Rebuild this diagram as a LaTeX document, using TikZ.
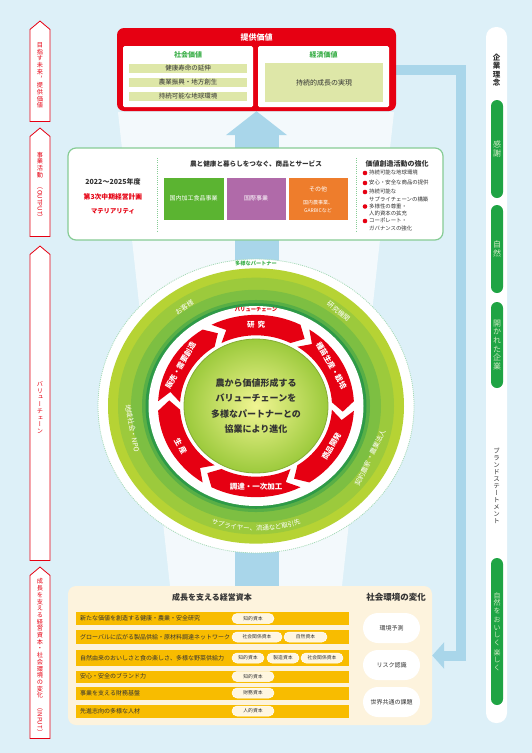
\documentclass[tikz,border=0pt]{standalone}
\usepackage{graphicx}
\usepackage{fontspec}
\setmainfont{Noto Sans CJK JP}
\newfontfamily\tatefont[RawFeature=+vert]{Noto Sans CJK JP}
\usetikzlibrary{arrows.meta,shapes.symbols,decorations.text}

\makeatletter
\newcommand\tatestack[1]{\vbox{\@tfor\tate@ch:=#1\do{\hbox to 1.1em{\hss\tate@ch\hss}}}}
\makeatother

\definecolor{bgblue}{HTML}{DDF0F8}
\definecolor{kred}{HTML}{E60012}
\definecolor{kgreen}{HTML}{1FA444}
\definecolor{pilltxt}{HTML}{CDEBC2}
\definecolor{flowblue}{HTML}{A9D6EA}
\definecolor{olive}{HTML}{DEE7A8}
\definecolor{headgreen}{HTML}{3DB04B}
\definecolor{bizgreen}{HTML}{5BB431}
\definecolor{bizpurple}{HTML}{B06AA9}
\definecolor{bizorange}{HTML}{EE7D2C}
\definecolor{boxline}{HTML}{86CC95}
\definecolor{cream}{HTML}{FDF3DD}
\definecolor{capyellow}{HTML}{F8BC00}
\definecolor{capcream}{HTML}{FFF6E0}
\definecolor{darktxt}{HTML}{333333}
\definecolor{bandA}{HTML}{B6D334}
\definecolor{bandB}{HTML}{9CCA3C}
\definecolor{bandC}{HTML}{7DBF42}
\definecolor{bandD}{HTML}{58AF46}
\definecolor{bandE}{HTML}{2E9A47}
\definecolor{ringedge}{HTML}{A6DAB8}

\pgfdeclarelayer{flow}
\pgfsetlayers{flow,main}

\tikzset{
  tag/.style={signal, signal to=north, signal from=nowhere, signal pointer angle=100,
    draw=kred, fill=white, line width=0.8pt, minimum width=20, inner sep=0pt,
    text=kred, font=\tatefont\fontsize{6.2}{6.7}\selectfont},
  tatetxt/.style={inner sep=0pt, text=darktxt},
  creedpill/.style={rectangle, rounded corners=6, fill=kgreen, minimum width=12,
    inner sep=0pt, text=pilltxt, font=\tatefont\fontsize{8}{8.6}\selectfont},
  valpanel/.style={rectangle, rounded corners=1.5, fill=white, minimum height=61, inner sep=0pt},
  valhead/.style={text=headgreen, font=\bfseries\fontsize{7}{7}\selectfont, inner sep=0pt},
  valbar/.style={rectangle, fill=olive, inner sep=0pt, text=darktxt, font=\fontsize{6.5}{7}\selectfont},
  plantxt/.style={inner sep=0pt, text=darktxt, font=\bfseries\fontsize{7}{7}\selectfont},
  bizhead/.style={inner sep=0pt, text=darktxt, font=\bfseries\fontsize{6.6}{7}\selectfont},
  segbox/.style={rectangle, minimum width=61, minimum height=43, draw=white, line width=0.6pt,
    inner sep=0pt, text=white, font=\fontsize{6}{7}\selectfont},
  actitem/.style={anchor=north west, inner sep=0pt, align=left, text=darktxt,
    font=\fontsize{5.4}{7.4}\selectfont},
  sepline/.style={draw=boxline, line width=1pt, dash pattern=on 1pt off 1.2pt},
  ringlbl/.style={inner sep=0pt, text=white, font=\bfseries\fontsize{7.5}{8}\selectfont},
  partner/.style={inner sep=0pt, text=white, font=\fontsize{6.8}{7}\selectfont},
  caprow/.style={rectangle, fill=capyellow, minimum width=273, inner sep=0pt},
  rowtxt/.style={anchor=west, inner sep=0pt, text=darktxt, font=\fontsize{6}{7}\selectfont},
  cappill/.style={rectangle, rounded corners=5, fill=capcream, draw=white, line width=0.5pt,
    minimum height=10, inner sep=0pt, text=darktxt, font=\fontsize{4.8}{5}\selectfont},
  envpill/.style={rectangle, rounded corners=15, fill=white, minimum width=57, minimum height=30,
    inner sep=0pt, text=darktxt, font=\fontsize{6}{7}\selectfont},
  inhead/.style={inner sep=0pt, text=darktxt, font=\bfseries\fontsize{8}{8}\selectfont},
  bigflow/.style={draw=flowblue, line width=44pt, -{Triangle[width=60pt,length=24pt]}},
  sideflow/.style={draw=flowblue, line width=10pt, -{Triangle[width=26pt,length=12pt]}},
}

\begin{document}
\begin{tikzpicture}[x=1pt,y=1pt,yscale=-1]
\begin{pgfonlayer}{flow}
  \fill[bgblue] (0,0) rectangle (532,753);
\end{pgfonlayer}
\useasboundingbox (0,0) rectangle (532,753);

% left side tags
\node[tag, minimum height=95] (tag1) at (40,75.5) {\tatestack{目指す未来，提供価値}};
\node[tag, minimum height=103] (tag2) at (40,186.5)
  {\tatestack{事業活動{\rotatebox{-90}{\normalfont（OUTPUT）}}}};
\node[tag, minimum height=309] (tag3) at (40,407.5) {\tatestack{バリューチェーン}};
\node[tag, minimum height=166] (tag4) at (40,657)
  {\tatestack{成長を支える経営資本・社会環境の変化{\rotatebox{-90}{\normalfont（INPUT）}}}};

% right column
\node[rectangle, rounded corners=10, fill=white, minimum width=21, minimum height=696, inner sep=0pt] (creed) at (496.5,375) {};
\node[tatetxt, font=\tatefont\bfseries\fontsize{7.5}{8.2}\selectfont] (creedhd) at (496.5,70) {\tatestack{企業理念}};
\node[creedpill, minimum height=98] (creed1) at (497,149) {\tatestack{感謝}};
\node[creedpill, minimum height=88] (creed2) at (497,249) {\tatestack{自然}};
\node[creedpill, minimum height=86] (creed3) at (497,345) {\tatestack{開かれた企業}};
\node[tatetxt, font=\tatefont\fontsize{6.5}{7}\selectfont] (brandhd) at (496.5,486) {\tatestack{ブランドステートメント}};
\node[creedpill, minimum height=147, font=\tatefont\fontsize{7}{7.4}\selectfont] (brand) at (497,631.5)
  {\vbox{\tatestack{自然を}\vskip3pt\tatestack{おいしく}\vskip3pt\tatestack{楽しく}}};

% top: provided value
\node[rectangle, rounded corners=7, fill=kred, minimum width=279, minimum height=83, inner sep=0pt] (topbox) at (256.5,69.5) {};
\node[inner sep=0pt, text=white, font=\bfseries\fontsize{8}{8}\selectfont] (topttl) at (256.5,37.5) {提供価値};
\node[valpanel, minimum width=130] (socpanel) at (188,76.5) {};
\node[valpanel, minimum width=131] (ecopanel) at (323.5,76.5) {};
\node[valhead] (sochead) at (188,54.5) {社会価値};
\node[valhead] (ecohead) at (323.5,54.5) {経済価値};
\foreach \yy/\txt [count=\i] in {68.5/健康寿命の延伸,82.5/農業振興・地方創生,96.5/持続可能な地球環境}
  \node[valbar, minimum width=118, minimum height=9] (soc\i) at (188,\yy) {\txt};
\node[valbar, minimum width=118, minimum height=39, font=\fontsize{7}{7}\selectfont] (eco1) at (324,82.5) {持続的成長の実現};

% middle: business activities
\node[rectangle, rounded corners=8, draw=boxline, line width=1.2pt, fill=white, minimum width=375, minimum height=92] (bizbox) at (255.5,194) {};
\node[plantxt] (plan1) at (113,182) {2022〜2025年度};
\node[plantxt, text=kred, font=\bfseries\fontsize{6.8}{7}\selectfont] (plan2) at (113,197) {第3次中期経営計画};
\node[plantxt, text=kred, font=\bfseries\fontsize{6.3}{7}\selectfont] (plan3) at (113,211) {マテリアリティ};
\draw[sepline] (157,158) -- (157,231);
\draw[sepline] (356,158) -- (356,231);
\node[bizhead] (bizhd) at (256,164) {農と健康と暮らしをつなぐ、商品とサービス};
\node[segbox, fill=bizgreen] (seg1) at (193.5,198.5) {国内加工食品事業};
\node[segbox, fill=bizpurple, minimum width=60] (seg2) at (256,198.5) {国際事業};
\node[segbox, fill=bizorange, minimum width=60] (seg3) at (318,198.5) {};
\node[inner sep=0pt, text=white, font=\fontsize{6}{7}\selectfont] (seg3a) at (318,189) {その他};
\node[inner sep=0pt, text=white, align=center, font=\fontsize{5}{8}\selectfont] (seg3b) at (318,207) {国内農事業、\\GARBICなど};
\node[bizhead, font=\bfseries\fontsize{7}{7}\selectfont] (acthd) at (397,164) {価値創造活動の強化};
\foreach \yy/\txt [count=\i] in {173/持続可能な地球環境,183/安心・安全な商品の提供,192/{持続可能な\\サプライチェーンの構築},206.5/{多様性の尊重・\\人的資本の拡充},221/{コーポレート・\\ガバナンスの強化}}{
  \fill[kred] (365,\yy) circle (2.3);
  \node[actitem] (act\i) at (369,\yy-2.8) {\txt};
}

% value chain ring
\begin{scope}[shift={(256,406)}, yscale=-0.93]
  \fill[white] (0,0) circle (158);
  \draw[ringedge, line width=0.8pt, dash pattern=on 1pt off 1pt] (0,0) circle (158);
  \fill[bandA] (0,0) circle (148);
  \fill[bandB] (0,0) circle (138);
  \fill[bandC] (0,0) circle (125);
  \fill[bandD] (0,0) circle (114);
  \fill[bandE] (0,0) circle (110.5);
  \fill[white] (0,0) circle (107.5);
  \foreach \c in {90,30,-30,-90,-150,-210}
    \fill[kred] (\c+27:98) arc[start angle=\c+27, end angle=\c-27, radius=98]
      -- (\c-34:87) -- (\c-27:76) arc[start angle=\c-27, end angle=\c+27, radius=76]
      -- (\c+20:87) -- cycle;
  \shade[inner color=olive!60!yellow!70!white, outer color=bandB] (0,0) circle (72);
  \draw[bandB!85!black, line width=0.8pt] (0,0) circle (72);
  \node[inner sep=0pt, align=center, text=darktxt, font=\bfseries\fontsize{9}{15.5}\selectfont] (core) at (0,0)
    {農から価値形成する\\バリューチェーンを\\多様なパートナーとの\\協業により進化};
  \node[ringlbl] (vc1) at (90:87) {研\hspace{3pt}究};
  \node[ringlbl, rotate=-60] (vc2) at (30:87) {種苗生産・栽培};
  \node[ringlbl, rotate=60] (vc3) at (-30:87) {商品開発};
  \node[ringlbl] (vc4) at (-90:87) {調達・一次加工};
  \node[ringlbl, rotate=-60] (vc5) at (210:87) {生\hspace{2pt}産};
  \node[ringlbl, rotate=60] (vc6) at (150:87) {販売・需要創造};
  \node[inner sep=0pt, text=headgreen, font=\bfseries\fontsize{5.2}{6}\selectfont] (ptnhd) at (90:153) {多様なパートナー};
  \node[inner sep=0pt, text=kred, font=\bfseries\fontsize{5.3}{6}\selectfont] (vchd) at (90:103.5) {バリューチェーン};
  \node[partner, rotate=33] (ptn1) at (124:128) {お客様};
  \node[partner, rotate=-39] (ptn2) at (51:131) {研究機関};
  \node[partner, rotate=-79] (ptn3) at (191:126) {地域社会・NPO};
  \node[partner, rotate=64] (ptn4) at (-26:127) {契約農家・農業法人};
  \path[decorate, decoration={text along path, text align=center,
      text={|\fontsize{6.5}{7}\selectfont\color{white}|サプライヤー、流通など取引先}}]
    (232:134) arc[start angle=232, end angle=308, radius=134];
\end{scope}

% bottom: capitals and environment
\node[rectangle, rounded corners=8, fill=cream, minimum width=364, minimum height=139, inner sep=0pt] (inbox) at (250,655.5) {};
\node[inhead] (inhd) at (212,597.5) {成長を支える経営資本};
\node[inhead, font=\bfseries\fontsize{8.5}{9}\selectfont] (envhd) at (396,597.5) {社会環境の変化};
\foreach \yy/\hh/\txt [count=\i] in {618.5/13/新たな価値を創造する健康・農業・安全研究,637/14/グローバルに広がる製品供給・原材料調達ネットワーク,658/16/自然由来のおいしさと食の楽しさ、多様な野菜供給力,676.5/12/安心・安全のブランド力,693/13/事業を支える財務基盤,711/13/先進志向の多様な人材}{
  \node[caprow, minimum height=\hh] (row\i) at (212.5,\yy) {};
  \node[rowtxt] (rowtxt\i) at (80,\yy) {\txt};
}
\node[cappill, minimum width=42] (cap1) at (253,618.5) {知的資本};
\node[cappill, minimum width=50] (cap2) at (257,637) {社会関係資本};
\node[cappill, minimum width=43] (cap3) at (305.5,637) {自然資本};
\node[cappill, minimum width=32] (cap4) at (248,658) {知的資本};
\node[cappill, minimum width=32] (cap5) at (283,658) {製造資本};
\node[cappill, minimum width=42] (cap6) at (322,658) {社会関係資本};
\node[cappill, minimum width=42] (cap7) at (253,676.5) {知的資本};
\node[cappill, minimum width=42] (cap8) at (253,693) {財務資本};
\node[cappill, minimum width=42] (cap9) at (253,711) {人的資本};
\foreach \yy/\txt [count=\i] in {628/環境予測,665/リスク認識,702/世界共通の課題}
  \node[envpill] (env\i) at (391.5,\yy) {\txt};

% flows behind everything
\begin{pgfonlayer}{flow}
  \fill[white, opacity=0.65] (118,112) -- (394,112) -- (342,586) -- (170,586) -- cycle;
  \draw[bigflow] (topbox.south |- inbox.north) -- (topbox.south);
  \draw[sideflow] (topbox.east) -| ([xshift=29pt]inbox.east) -- (inbox.east);
\end{pgfonlayer}
\end{tikzpicture}
\end{document}
